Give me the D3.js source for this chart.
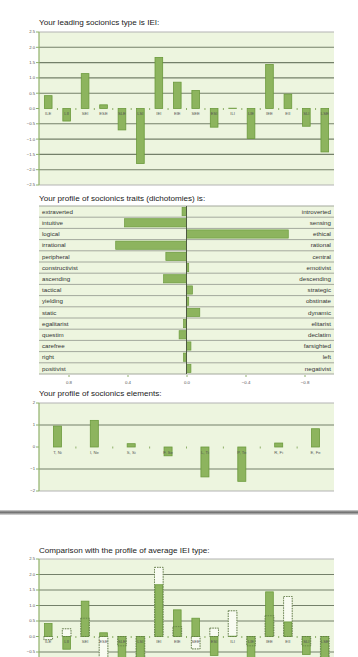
<!DOCTYPE html>
<html><head><meta charset="utf-8">
<script src="https://cdn.jsdelivr.net/npm/d3@7/dist/d3.min.js"></script>
<style>body{margin:0;background:#fff;}svg{display:block;font-family:"Liberation Sans",Arial,sans-serif;}</style>
</head><body><svg id="c" width="358" height="657"></svg>
<script>
const types = ["ILE","LII","SEI","ESE","SLE","LSI","IEI","EIE","SEE","ESI","ILI","LIE","IEE","EII","SLI","LSE"];
const typeValues = [0.42,-0.41,1.14,0.12,-0.70,-1.80,1.67,0.86,0.59,-0.61,0.01,-0.98,1.44,0.47,-0.58,-1.42];
const typeTicks = [2.5,2.0,1.5,1.0,0.5,0.0,-0.5,-1.0,-1.5,-2.0,-2.5];

const traitLeft = ["extraverted","intuitive","logical","irrational","peripheral","constructivist","ascending","tactical","yielding","static","egalitarist","questim","carefree","right","positivist"];
const traitRight = ["introverted","sensing","ethical","rational","central","emotivist","descending","strategic","obstinate","dynamic","elitarist","declatim","farsighted","left","negativist"];
const traitValues = [0.03,0.42,-0.69,0.48,0.14,-0.015,0.155,-0.04,-0.015,-0.09,0.02,0.05,-0.03,0.02,-0.03];
const traitTicks = [0.8,0.4,0.0,-0.4,-0.8];

const elements = ["T, Ni","I, Ne","S, Si","F, Se","L, Ti","P, Te","R, Fi","E, Fe"];
const elementValues = [0.95,1.21,0.15,-0.40,-1.36,-1.56,0.18,0.83];
const elementTicks = [2,1,0,-1,-2];

const averageValues = [-0.1,0.25,0.59,-1.0,-0.3,-0.9,2.23,0.32,-0.4,0.27,0.83,-0.3,0.67,1.29,-0.3,-0.7];

const svg = d3.select("#c");
const BG = "#edf5df", BAR = "#8db45e", BARS = "#6b9a3c", GRID = "#74806a", EDGE = "#b4b4b4", AX = "#8fb06a";
const L = 39, R = 334, H = 657;

function title(y, t){
  svg.append("text").attr("x", L).attr("y", y).attr("font-size", 8.1).attr("fill", "#1a1a1a").text(t);
}

function barChart(opt){
  const g = svg.append("g");
  const x = d3.scaleBand().domain(opt.cats).range([L, R]).paddingInner(opt.pad).paddingOuter(opt.pad/2);
  const xb = d3.scaleBand().domain(opt.cats).range([L, R]);
  const y = d3.scaleLinear().domain([opt.ticks[opt.ticks.length-1], opt.ticks[0]]).range([opt.bottom, opt.top]);
  g.append("rect").attr("x", L).attr("y", opt.top).attr("width", R-L).attr("height", opt.bottom-opt.top).attr("fill", BG);
  g.selectAll(".gl").data(opt.ticks).join("line")
    .attr("x1", L).attr("x2", R).attr("y1", d => y(d)).attr("y2", d => y(d))
    .attr("stroke", (d,i) => (i===0 || i===opt.ticks.length-1) ? EDGE : (d===0 ? "none" : GRID))
    .attr("stroke-width", (d,i) => (i===0 || i===opt.ticks.length-1) ? 1.2 : 1.1);
  const w = x.bandwidth();
  if (opt.avg){
    g.selectAll(".avg").data(opt.cats).join("rect")
      .attr("x", d => x(d)).attr("width", w)
      .attr("y", (d,i) => y(Math.max(0, opt.avg[i]))).attr("height", (d,i) => Math.abs(y(opt.avg[i]) - y(0)))
      .attr("fill", "#f8fbf1").attr("stroke", "#9aa88a").attr("stroke-width", 0.8).attr("stroke-dasharray", "1.5,1");
  }
  g.selectAll(".bar").data(opt.cats).join("rect")
    .attr("x", d => x(d)+0.5).attr("width", w-1)
    .attr("y", (d,i) => y(Math.max(0, opt.vals[i]))).attr("height", (d,i) => Math.abs(y(opt.vals[i]) - y(0)))
    .attr("fill", BAR).attr("stroke", BARS).attr("stroke-width", 0.8);
  if (opt.avg){
    g.selectAll(".avg2").data(opt.cats).join("rect")
      .attr("x", d => x(d)).attr("width", w)
      .attr("y", (d,i) => y(Math.max(0, opt.avg[i]))).attr("height", (d,i) => Math.abs(y(opt.avg[i]) - y(0)))
      .attr("fill", "none").attr("stroke", "#5d7a40").attr("stroke-width", 0.7).attr("stroke-dasharray", "1.5,1");
  }
  const bounds = opt.cats.slice(1).map(d => xb(d));
  g.selectAll(".xt").data(bounds).join("line")
    .attr("x1", d => d).attr("x2", d => d).attr("y1", y(0)-0.5).attr("y2", y(0)+1.5)
    .attr("stroke", AX).attr("stroke-width", 1);
  g.selectAll(".xl").data(opt.cats).join("text")
    .attr("x", d => xb(d) + xb.bandwidth()/2).attr("y", y(0)+opt.labDy)
    .attr("text-anchor", "middle").attr("font-size", 4.2).attr("fill", "#555").text(d => d);
  g.append("line").attr("x1", L).attr("x2", L).attr("y1", opt.top).attr("y2", opt.bottom).attr("stroke", AX).attr("stroke-width", 1.2);
  g.selectAll(".yt").data(opt.ticks).join("line")
    .attr("x1", L-3).attr("x2", L).attr("y1", d => y(d)).attr("y2", d => y(d)).attr("stroke", AX).attr("stroke-width", 1);
  g.selectAll(".yl").data(opt.ticks.filter(d => y(d) + 2 < H)).join("text")
    .attr("x", L-4).attr("y", d => y(d)+1.4).attr("text-anchor", "end").attr("font-size", 4.2).attr("fill", "#555")
    .text(d => opt.fmt(d));
}

title(25, "Your leading socionics type is IEI:");
barChart({cats: types, vals: typeValues, ticks: typeTicks, top: 32, bottom: 185, pad: 0.53, labDy: 6.5, fmt: d3.format(".1f")});

title(201, "Your profile of socionics traits (dichotomies) is:");
{
  const top = 206, rowH = 11.2;
  const y = d3.scaleBand().domain(traitLeft).range([top, top + rowH*traitLeft.length]);
  const x = d3.scaleLinear().domain([1, -1]).range([L, R]);
  const g = svg.append("g");
  g.selectAll(".row").data(traitLeft).join("rect")
    .attr("x", L).attr("width", R-L).attr("y", d => y(d)).attr("height", rowH).attr("fill", BG);
  g.selectAll(".sep").data(traitLeft.concat(["_end"])).join("line")
    .attr("x1", L).attr("x2", R).attr("y1", (d,i) => top + i*rowH).attr("y2", (d,i) => top + i*rowH)
    .attr("stroke", "#a3a89c").attr("stroke-width", 1);
  g.selectAll(".tb").data(traitLeft).join("rect")
    .attr("x", (d,i) => Math.min(x(traitValues[i]), x(0))).attr("width", (d,i) => Math.abs(x(traitValues[i]) - x(0)))
    .attr("y", d => y(d)+1.5).attr("height", rowH-3)
    .attr("fill", BAR).attr("stroke", BARS).attr("stroke-width", 0.7);
  g.append("line").attr("x1", x(0)).attr("x2", x(0)).attr("y1", top).attr("y2", top + rowH*traitLeft.length)
    .attr("stroke", "#4d5a40").attr("stroke-width", 1);
  g.selectAll(".ll").data(traitLeft).join("text")
    .attr("x", L+3).attr("y", d => y(d)+rowH/2+2.1).attr("font-size", 6.2).attr("fill", "#333").text(d => d);
  g.selectAll(".rl").data(traitRight).join("text")
    .attr("x", R-3).attr("y", (d,i) => y(traitLeft[i])+rowH/2+2.1).attr("text-anchor", "end").attr("font-size", 6.2).attr("fill", "#333").text(d => d);
  const yb = top + rowH*traitLeft.length;
  const ax = g.append("g").attr("transform", `translate(0,${yb+1})`)
    .call(d3.axisBottom(x).tickValues(traitTicks).tickSize(2).tickFormat(d3.format(".1f")));
  ax.select(".domain").remove();
  ax.selectAll("line").attr("stroke", AX);
  ax.selectAll("text").attr("font-size", 4.4).attr("fill", "#555").attr("dy", "0.9em").attr("font-family", "Liberation Sans, Arial, sans-serif");
}

title(396, "Your profile of socionics elements:");
barChart({cats: elements, vals: elementValues, ticks: elementTicks, top: 403, bottom: 491, pad: 0.755, labDy: 7, fmt: d3.format("d")});

{
  const defs = svg.append("defs");
  const lg = defs.append("linearGradient").attr("id", "sep").attr("x1", 0).attr("x2", 0).attr("y1", 0).attr("y2", 1);
  lg.append("stop").attr("offset", "0%").attr("stop-color", "#d8d8d8");
  lg.append("stop").attr("offset", "45%").attr("stop-color", "#6a6a6a");
  lg.append("stop").attr("offset", "100%").attr("stop-color", "#e0e0e0");
  svg.append("rect").attr("x", 0).attr("y", 510).attr("width", 358).attr("height", 5).attr("fill", "url(#sep)");
}

title(553, "Comparison with the profile of average IEI type:");
barChart({cats: types, vals: typeValues, ticks: typeTicks, top: 559, bottom: 714, pad: 0.53, labDy: 6.5, fmt: d3.format(".1f"), avg: averageValues});
</script></body></html>
